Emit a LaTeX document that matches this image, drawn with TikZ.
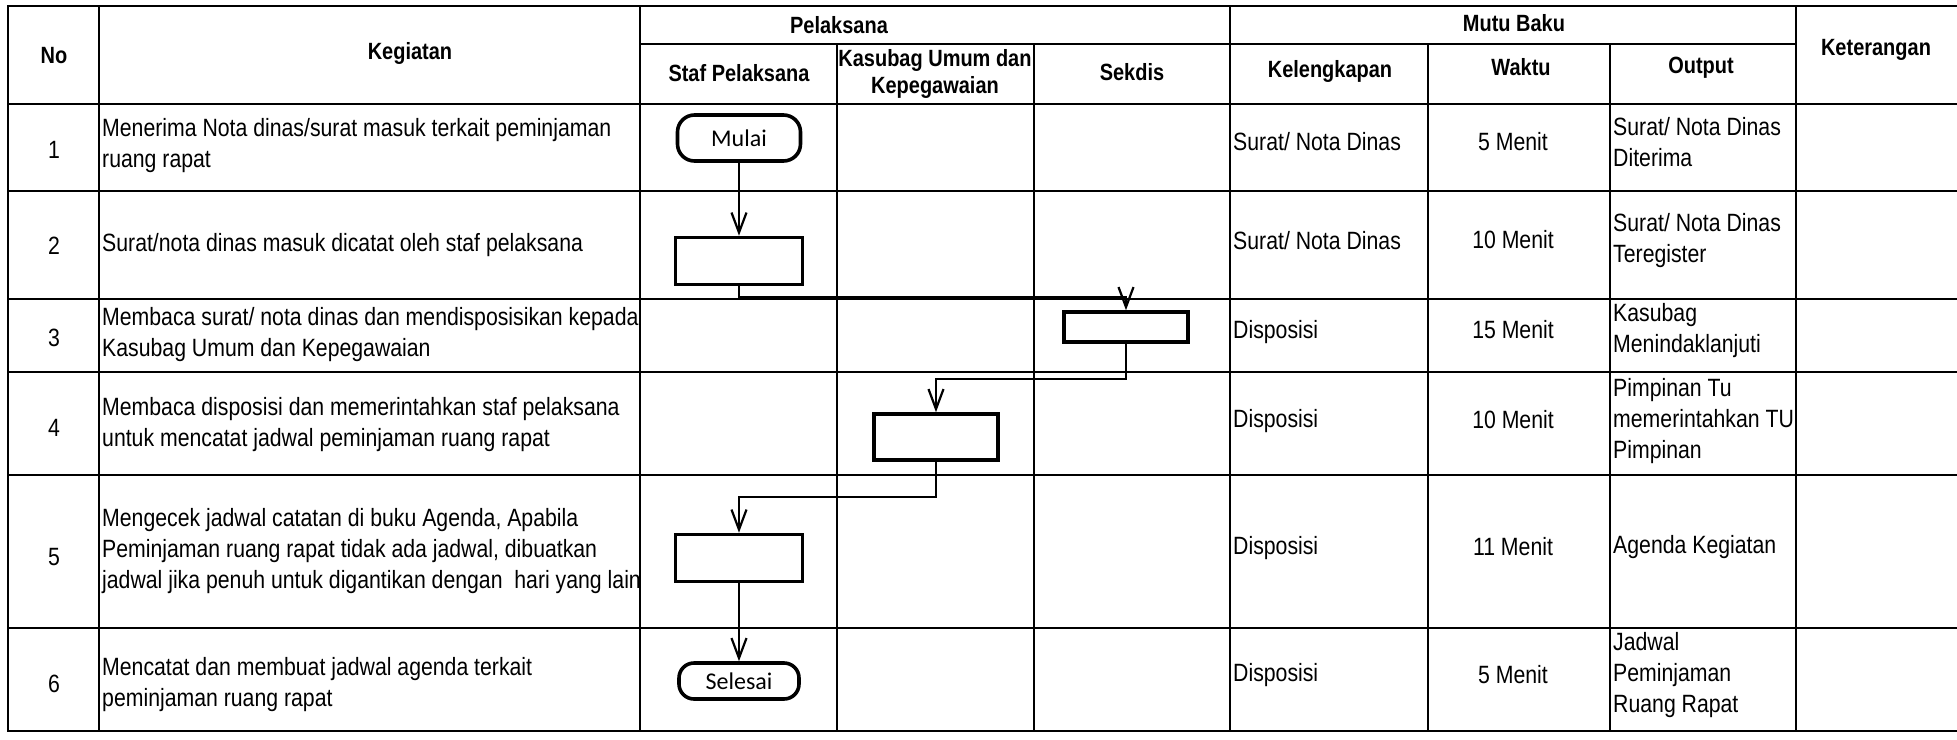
\documentclass[tikz,border=0pt]{standalone}
\usepackage{fontspec}
\setmainfont{Liberation Sans}[FakeStretch=0.85]
\newfontfamily\termfont{Carlito}
\usetikzlibrary{arrows.meta}
\begin{document}
\begin{tikzpicture}[x=1pt,y=-1pt,
  grid/.style={line width=2.2pt,line cap=rect},
  flowbox/.style={draw,line width=3.6pt,inner sep=0pt},
  termbox/.style={draw,line width=3.6pt,inner sep=0pt,rounded corners=17pt,font=\termfont\fontsize{24}{26}\selectfont},
  flow/.style={line width=2.6pt,-{Straight Barb[length=20pt,width=15pt,line width=2.2pt]}},
  txt/.style={inner sep=0pt,font=\fontsize{25}{31}\selectfont,align=left},
  ctxt/.style={inner sep=0pt,font=\fontsize{25}{31}\selectfont,align=center},
  head/.style={inner sep=0pt,font=\bfseries\fontsize{23.5}{27}\selectfont,align=center}
]
\useasboundingbox (0,0) rectangle (1957,739);
\fill[white] (0,0) rectangle (1957,739);

% ---------- table grid ----------
\foreach \y in {6,104,191,299,372,475,628,731}
  \draw[grid] (8,\y) -- (1957,\y);
\draw[grid] (640,44) -- (1796,44);
\foreach \x in {8,99,640,1230,1796}
  \draw[grid] (\x,6) -- (\x,731);
\foreach \x in {837,1034,1428,1610}
  \draw[grid] (\x,44) -- (\x,731);

% ---------- headers ----------
\node[head] (hNo)  at (54,56)   {No};
\node[head] (hKeg) at (410,53)  {Kegiatan};
\node[head] (hPel) at (839,25)  {Pelaksana};
\node[head] (hMB)  at (1514,23) {Mutu Baku};
\node[head] (hKet) at (1876,50) {Keterangan};
\node[head] (hStaf) at (739,73) {Staf Pelaksana};
\node[head] (hKas) at (935,74)  {Kasubag Umum dan\\Kepegawaian};
\node[head] (hSek) at (1132,72) {Sekdis};
\node[head] (hKel) at (1330,71) {Kelengkapan};
\node[head] (hWak) at (1521,67) {Waktu};
\node[head] (hOut) at (1701,68) {Output};

% ---------- No column ----------
\node[ctxt] (n1) at (54,150) {1};
\node[ctxt] (n2) at (54,246) {2};
\node[ctxt] (n3) at (54,338) {3};
\node[ctxt] (n4) at (54,428) {4};
\node[ctxt] (n5) at (54,557) {5};
\node[ctxt] (n6) at (54,684) {6};

% ---------- Kegiatan ----------
\node[txt,anchor=west] (k1) at (102,146) {Menerima Nota dinas/surat masuk terkait peminjaman\\ruang rapat};
\node[txt,anchor=west] (k2) at (102,245) {Surat/nota dinas masuk dicatat oleh staf pelaksana};
\node[txt,anchor=west] (k3) at (102,335) {Membaca surat/ nota dinas dan mendisposisikan kepada\\Kasubag Umum dan Kepegawaian};
\node[txt,anchor=west] (k4) at (102,425) {Membaca disposisi dan memerintahkan staf pelaksana\\untuk mencatat jadwal peminjaman ruang rapat};
\node[txt,anchor=west] (k5) at (102,551) {Mengecek jadwal catatan di buku Agenda, Apabila\\Peminjaman ruang rapat tidak ada jadwal, dibuatkan\\jadwal jika penuh untuk digantikan dengan\ \ hari yang lain};
\node[txt,anchor=west] (k6) at (102,685) {Mencatat dan membuat jadwal agenda terkait\\peminjaman ruang rapat};

% ---------- Kelengkapan ----------
\node[txt,anchor=west] (l1) at (1233,142) {Surat/ Nota Dinas};
\node[txt,anchor=west] (l2) at (1233,241) {Surat/ Nota Dinas};
\node[txt,anchor=west] (l3) at (1233,332) {Disposisi};
\node[txt,anchor=west] (l4) at (1233,421) {Disposisi};
\node[txt,anchor=west] (l5) at (1233,548) {Disposisi};
\node[txt,anchor=west] (l6) at (1233,675) {Disposisi};

% ---------- Waktu ----------
\node[ctxt] (w1) at (1513,142) {5 Menit};
\node[ctxt] (w2) at (1513,240) {10 Menit};
\node[ctxt] (w3) at (1513,330) {15 Menit};
\node[ctxt] (w4) at (1513,420) {10 Menit};
\node[ctxt] (w5) at (1513,547) {11 Menit};
\node[ctxt] (w6) at (1513,675) {5 Menit};

% ---------- Output ----------
\node[txt,anchor=west] (o1) at (1613,142) {Surat/ Nota Dinas\\Diterima};
\node[txt,anchor=west] (o2) at (1613,241) {Surat/ Nota Dinas\\Teregister};
\node[txt,anchor=west] (o3) at (1613,331) {Kasubag\\Menindaklanjuti};
\node[txt,anchor=west] (o4) at (1613,421) {Pimpinan Tu\\memerintahkan TU\\Pimpinan};
\node[txt,anchor=west] (o5) at (1613,547) {Agenda Kegiatan};
\node[txt,anchor=west] (o6) at (1613,675) {Jadwal\\Peminjaman\\Ruang Rapat};

% ---------- flowchart ----------
\node[termbox,minimum width=123pt,minimum height=46pt] (mulai) at (739,138) {Mulai};
\node[flowbox,minimum width=127pt,minimum height=47pt] (b2) at (739,261) {};
\node[flowbox,minimum width=124pt,minimum height=30pt] (b3) at (1126,327) {};
\node[flowbox,minimum width=124pt,minimum height=46pt] (b4) at (936,437) {};
\node[flowbox,minimum width=127pt,minimum height=47pt] (b5) at (739,558) {};
\node[termbox,minimum width=120pt,minimum height=36pt,rounded corners=15pt] (selesai) at (739,681) {Selesai};

\coordinate (j1) at (0,297);
\coordinate (j2) at (0,379);
\coordinate (j3) at (0,497);

\draw[flow] (mulai.south) -- (b2.north);
\draw[flow] (b2.south) -- (b2.south |- j1) -| (b3.north);
\draw[flow] (b3.south) -- (b3.south |- j2) -| (b4.north);
\draw[flow] (b4.south) -- (b4.south |- j3) -| (b5.north);
\draw[flow] (b5.south) -- (selesai.north);
\end{tikzpicture}
\end{document}
